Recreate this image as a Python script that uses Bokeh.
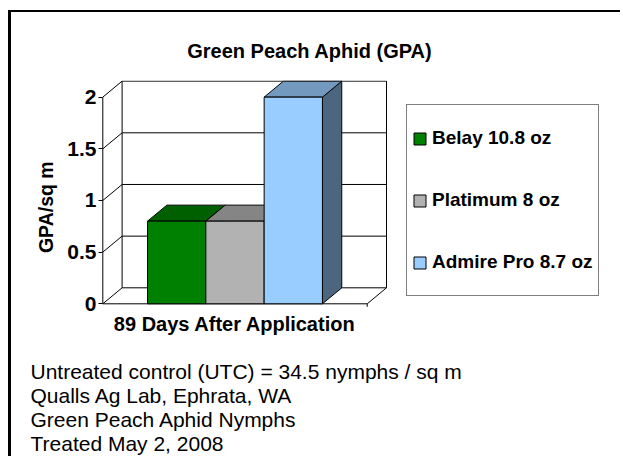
import math
from bokeh.plotting import figure
from bokeh.models import Range1d, FixedTicker, Legend, LegendItem, Label, ColumnDataSource
from bokeh.embed import file_html
from bokeh.resources import INLINE

# ---------------- data ----------------
chart_title = "Green Peach Aphid (GPA)"
category_label = "89 Days After Application"
treatments = ["Belay 10.8 oz", "Platimum 8 oz", "Admire Pro 8.7 oz"]
gpa_per_sq_m = [0.8, 0.8, 2.0]
y_ticks = [0, 0.5, 1, 1.5, 2]
y_tick_labels = ["0", "0.5", "1", "1.5", "2"]
y_title = "GPA/sq m"
notes = [
    "Untreated control (UTC) = 34.5 nymphs / sq m",
    "Qualls Ag Lab, Ephrata, WA",
    "Green Peach Aphid Nymphs",
    "Treated May 2, 2008",
]

# ---------------- styles ----------------
FRONT = ["#008000", "#B2B2B2", "#99CCFF"]
TOP = ["#006000", "#858585", "#7399BF"]
SIDE = ["#004000", "#595959", "#4D6680"]
FONT = "Liberation Sans"

PX_X, PX_Y = 264.4, 103.33      # pixels per data unit
W, H = 612, 446
FL, FT, FB = 90, 68, 296         # frame left / top / bottom (canvas px)
X0, Y0 = 91.3, 291.3             # canvas px of x=0 / y=0
DX, DY = 19.3 / PX_X, 16.0 / PX_Y  # 3-D depth offset
BAR_W = 0.2205

x_start = -(X0 - FL) / PX_X
x_end = x_start + (W - FL) / PX_X
y_start = -(FB - Y0) / PX_Y
y_end = y_start + (FB - FT) / PX_Y


def cx(px):  # canvas px -> data x
    return x_start + (px - FL) / PX_X


def cy(px):  # canvas px -> data y
    return y_start + (FB - px) / PX_Y


p = figure(width=W, height=H, x_range=Range1d(x_start, x_end), y_range=Range1d(y_start, y_end),
           output_backend="svg", toolbar_location=None,
           min_border_left=FL, min_border_right=0, min_border_top=FT, min_border_bottom=H - FB)
p.styles = {"margin-left": "8px", "margin-top": "10px",
            "border-left": "3px solid black", "border-top": "2px solid black"}
p.outline_line_color = None
p.grid.visible = False
p.background_fill_color = "white"
p.border_fill_color = "white"

# axes
xa = p.xaxis[0]
xa.ticker = FixedTicker(ticks=[0.5])
xa.major_label_overrides = {0.5: category_label}
xa.axis_line_color = None
xa.major_tick_out = 0
xa.major_tick_in = 0
xa.minor_tick_out = 0
xa.minor_tick_in = 0
xa.major_label_standoff = 4
xa.major_label_text_font = FONT
xa.major_label_text_font_size = "20px"
xa.major_label_text_font_style = "bold"
xa.major_label_text_color = "black"

ya = p.yaxis[0]
ya.ticker = FixedTicker(ticks=y_ticks)
ya.major_label_overrides = {t: s for t, s in zip(y_ticks, y_tick_labels)}
ya.axis_line_color = None
ya.major_tick_out = 3
ya.major_tick_in = 1
ya.major_tick_line_color = "black"
ya.minor_tick_out = 0
ya.minor_tick_in = 0
ya.major_label_standoff = 2
ya.major_label_text_font = FONT
ya.major_label_text_font_size = "21px"
ya.major_label_text_font_style = "bold"
ya.major_label_text_color = "black"

# ---------------- 3-D frame (walls, floor) ----------------
y_top = max(y_ticks)
wall_xs, wall_ys = [], []
for t in y_ticks:
    wall_xs.append([0, DX, 1 + DX]); wall_ys.append([t, t + DY, t + DY])   # left-wall diagonal + back-wall grid
wall_xs.append([DX, DX]); wall_ys.append([DY, y_top + DY])
wall_xs.append([1 + DX, 1 + DX]); wall_ys.append([DY, y_top + DY])
wall_xs.append([0, 0]); wall_ys.append([0, y_top])                         # front value axis
wall_xs.append([0, 1, 1 + DX]); wall_ys.append([0, 0, DY])                 # floor front edge
wall_xs.append([1, 1]); wall_ys.append([0, -3 / PX_Y])                     # category tick
p.multi_line(wall_xs, wall_ys, line_color="black", line_width=1)

# ---------------- bars ----------------
n = len(treatments)
centers = [0.5 + (i - (n - 1) / 2) * BAR_W for i in range(n)]
lefts = [c - BAR_W / 2 for c in centers]
rights = [c + BAR_W / 2 for c in centers]

side_xs = [[r, r + DX, r + DX, r] for r in rights]
side_ys = [[0, DY, v + DY, v] for v in gpa_per_sq_m]
p.patches(side_xs, side_ys, fill_color=SIDE, line_color="black", line_width=1)

top_xs = [[l, r, r + DX, l + DX] for l, r in zip(lefts, rights)]
top_ys = [[v, v, v + DY, v + DY] for v in gpa_per_sq_m]
p.patches(top_xs, top_ys, fill_color=TOP, line_color="black", line_width=1)

src = ColumnDataSource(dict(name=treatments, value=gpa_per_sq_m, left=lefts, right=rights,
                            bottom=[0] * n, color=FRONT))
front = p.quad(left="left", right="right", top="value", bottom="bottom", source=src,
               fill_color="color", line_color="black", line_width=1)

legend = Legend(items=[LegendItem(label=t, renderers=[front], index=i) for i, t in enumerate(treatments)],
                location=(305, 12), orientation="vertical", padding=5, spacing=6, margin=0,
                label_standoff=5, glyph_width=15, glyph_height=15, label_height=56,
                label_text_font=FONT, label_text_font_size="19px", label_text_font_style="bold",
                label_text_color="black", border_line_color="black", border_line_width=1,
                background_fill_color="white", background_fill_alpha=1)
p.add_layout(legend)

# ---------------- texts outside the plot frame ----------------
p.add_layout(Label(x=cx(175.7), y=cy(38.3), text=chart_title,
                   text_align="left", text_baseline="middle", text_font=FONT,
                   text_font_size="20px", text_font_style="bold", text_color="black"), "above")
p.add_layout(Label(x=cx(34), y=cy(194.7), text=y_title, angle=math.pi / 2,
                   text_align="center", text_baseline="middle", text_font=FONT,
                   text_font_size="19.5px", text_font_style="bold", text_color="black"), "left")
for i, line in enumerate(notes):
    p.add_layout(Label(x=cx(19), y=cy(359.4 + 24 * i), text=line,
                       text_align="left", text_baseline="middle", text_font=FONT,
                       text_font_size="21px", text_color="black"), "below")

open("out.html", "w").write(file_html(p, INLINE))
